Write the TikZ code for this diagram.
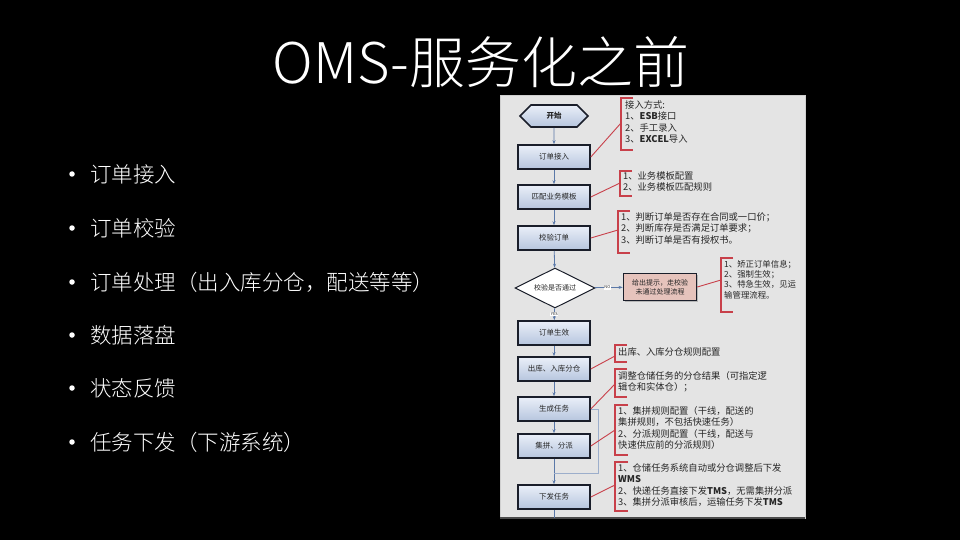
\documentclass[tikz,border=0pt]{standalone}
\usepackage{fontspec}
\setmainfont{Noto Sans CJK SC}
\newfontfamily\titlefont{Noto Sans CJK SC Light}
\usetikzlibrary{shapes.geometric,shapes.symbols,arrows.meta,shadows}
\definecolor{panelbg}{HTML}{E4E4E4}
\definecolor{panelrim}{HTML}{CFCFCF}
\definecolor{boxrim}{HTML}{1A1E2A}
\definecolor{boxtop}{HTML}{EAEFF8}
\definecolor{boxbot}{HTML}{B6C5DE}
\definecolor{flowline}{HTML}{5A78A8}
\definecolor{annored}{HTML}{C8404A}
\definecolor{pinkbox}{HTML}{E6C3BC}
\definecolor{annotext}{HTML}{262626}
\tikzset{
  flowbox/.style={draw=boxrim, line width=1.6pt, top color=boxtop, bottom color=boxbot,
    minimum width=72pt, minimum height=24pt, inner sep=1pt, text=annotext,
    font=\fontsize{7.5}{9}\selectfont,
    drop shadow={shadow xshift=1.2pt, shadow yshift=-1.2pt, fill=black!45}},
  startbox/.style={signal, signal to=west and east, draw=boxrim, line width=1.6pt,
    top color=boxtop, bottom color=boxbot, minimum width=68pt, minimum height=22pt,
    inner sep=1pt, font=\bfseries\fontsize{7.5}{9}\selectfont, text=annotext},
  decide/.style={diamond, aspect=2, draw=boxrim, line width=1pt, fill=white,
    minimum width=80pt, minimum height=40pt, inner sep=0pt,
    font=\fontsize{7}{9}\selectfont, text=annotext},
  alertbox/.style={draw=boxrim, line width=1.6pt, fill=pinkbox, minimum width=73pt,
    minimum height=27pt, inner sep=1pt, align=center, text=annotext,
    font=\fontsize{7}{9}\selectfont,
    drop shadow={shadow xshift=1.2pt, shadow yshift=-1.2pt, fill=black!45}},
  flowarrow/.style={draw=flowline, line width=0.8pt, -{Stealth[length=4pt,width=3pt]}},
  flowline/.style={draw=flowline, line width=0.8pt},
  bypass/.style={draw=flowline!60, line width=1pt},
  anno/.style={anchor=north west, inner sep=0pt, align=left, text=annotext,
    font=\fontsize{9.3}{11.6}\selectfont},
  annosmall/.style={anchor=north west, inner sep=0pt, align=left, text=annotext,
    font=\fontsize{8.4}{10.3}\selectfont},
  bracketline/.style={draw=annored, line width=1.3pt},
  annolink/.style={draw=annored, line width=0.9pt},
  tag/.style={fill=white, inner sep=0.6pt, font=\fontsize{4}{4}\selectfont, text=annotext},
  bullettext/.style={anchor=west, text=white, inner sep=0pt, font=\titlefont\fontsize{21.5}{24}\selectfont},
  bulletdot/.style={circle, fill=white, inner sep=0pt, minimum size=5.5pt},
  titletext/.style={text=white, inner sep=0pt, font=\titlefont\fontsize{56}{60}\selectfont}
}
\begin{document}
\begin{tikzpicture}[x=1pt,y=-1pt]
\useasboundingbox (0,0) rectangle (960,540);
\fill[black] (0,0) rectangle (960,540);

% title
\node[titletext] (title) at (481,62) {OMS-服务化之前};

% bullets
\foreach \i/\yy/\txt in {1/174/订单接入, 2/228/订单校验, 3/282/订单处理（出入库分仓，配送等等）,
                       4/335/数据落盘, 5/388/状态反馈, 6/442/任务下发（下游系统）} {
  \node[bulletdot] (dot\i) at (72,\yy) {};
  \node[bullettext] (item\i) at (90,\yy) {\txt};
}

% scanned flowchart panel
\filldraw[fill=panelbg, draw=panelrim, line width=1pt] (500,96) rectangle (805,518);
\draw[black!70, line width=1.2pt] (500,518) -- (805,518);

% flow nodes
\node[startbox] (start) at (554,116) {开始};
\node[flowbox] (recv) at (554,157) {订单接入};
\node[flowbox] (match) at (554,197) {匹配业务模板};
\node[flowbox] (check) at (554,238) {校验订单};
\node[decide] (pass) at (555,288) {校验是否通过};
\node[alertbox] (alert) at (660,287) {给出提示，走校验\\未通过处理流程};
\node[flowbox] (valid) at (554,333) {订单生效};
\node[flowbox] (split) at (554,369) {出库、入库分仓};
\node[flowbox] (gen) at (554,409) {生成任务};
\node[flowbox] (group) at (554,446) {集拼、分派};
\node[flowbox] (issue) at (554,497) {下发任务};
\coordinate (bottomend) at (554,518);
\coordinate (bypassA) at (598,409);
\coordinate (bypassB) at (598,473);
\coordinate (bypassC) at (554,473);

% flow connectors
\draw[flowarrow] (start) -- (recv);
\draw[flowarrow] (recv) -- (match);
\draw[flowarrow] (match) -- (check);
\draw[flowarrow] (check) -- (pass);
\draw[flowarrow] (pass) -- node[tag] (yes) {YES} (valid);
\draw[flowarrow] (pass) -- node[tag, pos=0.45] (no) {NO} (alert);
\draw[flowarrow] (valid) -- (split);
\draw[flowarrow] (split) -- (gen);
\draw[flowarrow] (gen) -- (group);
\draw[flowarrow] (group) -- (issue);
\draw[flowline] (issue) -- (bottomend);
\draw[bypass] (gen.east) -- (bypassA) -- (bypassB) -- (bypassC);

% annotations
% 1
\node[anno] (a1) at (625,100) {接入方式:\\1、\textbf{ESB}接口\\2、手工录入\\3、\textbf{EXCEL}导入};
\draw[bracketline] (633,98) -- (621,98) -- (621,150) -- (633,150);
\coordinate (a1in) at (621,123);
\draw[annolink] (recv.east) -- (a1in);
% 2
\node[anno] (a2) at (623,171) {1、业务模板配置\\2、业务模板匹配规则};
\draw[bracketline] (632,171) -- (620,171) -- (620,196) -- (632,196);
\coordinate (a2in) at (620,183);
\draw[annolink] (match.east) -- (a2in);
% 3
\node[anno] (a3) at (621,212) {1、判断订单是否存在合同或一口价；\\2、判断库存是否满足订单要求；\\3、判断订单是否有授权书。};
\draw[bracketline] (630,211) -- (618,211) -- (618,253) -- (630,253);
\coordinate (a3in) at (618,230);
\draw[annolink] (check.east) -- (a3in);
% 4
\node[annosmall] (a4) at (724,260) {1、矫正订单信息；\\2、强制生效；\\3、特急生效，见运\\输管理流程。};
\draw[bracketline] (733,258) -- (721,258) -- (721,312) -- (733,312);
\coordinate (a4in) at (721,280);
\draw[annolink] (alert.east) -- (a4in);
% 5
\node[anno] (a5) at (618,347) {出库、入库分仓规则配置};
\draw[bracketline] (627,345) -- (615,345) -- (615,362) -- (627,362);
\coordinate (a5in) at (615,356);
\draw[annolink] (split.east) -- (a5in);
% 6
\node[anno] (a6) at (618,371) {调整仓储任务的分仓结果（可指定逻\\辑仓和实体仓）；};
\draw[bracketline] (627,369) -- (615,369) -- (615,397) -- (627,397);
\coordinate (a6in) at (615,384);
\draw[annolink] (gen.east) -- (a6in);
% 7
\node[anno] (a7) at (618,406) {1、集拼规则配置（干线，配送的\\集拼规则，不包括快速任务）\\2、分派规则配置（干线，配送与\\快速供应前的分派规则）};
\draw[bracketline] (628,405) -- (615,405) -- (615,455) -- (628,455);
\coordinate (a7in) at (615,430);
\draw[annolink] (group.east) -- (a7in);
% 8
\node[anno] (a8) at (618,463) {1、仓储任务系统自动或分仓调整后下发\\\textbf{WMS}\\2、快递任务直接下发\textbf{TMS}，无需集拼分派\\3、集拼分派审核后，运输任务下发\textbf{TMS}};
\draw[bracketline] (628,462) -- (615,462) -- (615,511) -- (628,511);
\coordinate (a8in) at (615,485);
\draw[annolink] (issue.east) -- (a8in);
\end{tikzpicture}
\end{document}
